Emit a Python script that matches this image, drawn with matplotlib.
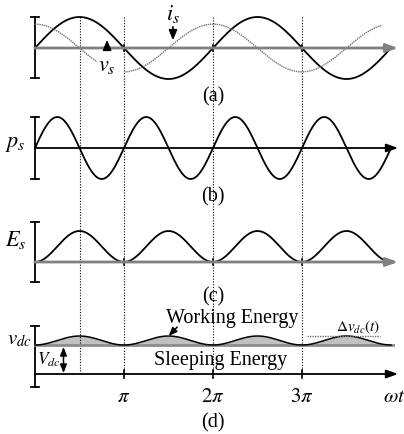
import numpy as np
import matplotlib
matplotlib.use("Agg")
import matplotlib.pyplot as plt

plt.rcParams['font.family'] = ['Liberation Serif', 'DejaVu Serif']
plt.rcParams['mathtext.fontset'] = 'stix'

# data (x in units of pi)
theta = np.linspace(0, 4, 800)
v_s = np.sin(np.pi * theta)
i_s = 0.77 * np.cos(np.pi * theta)
p_s = np.sin(2 * np.pi * theta)
E_s = np.sin(np.pi * theta) ** 2
ripple = 0.29 * np.sin(np.pi * theta) ** 2
tick_pos = [1, 2, 3]
tick_labels = [r'$\pi$', r'$2\pi$', r'$3\pi$']
guide_pos = [0.5, 1, 2, 3]

# layout (y in pixel-like units, downward)
A = 31
base = {'a': 48, 'b': 148, 'c': 262, 'd': 345}
d_axis = 374
x_end = 4.08

fig = plt.figure(figsize=(4.04, 4.34), dpi=100)
ax = fig.add_axes([0, 0, 1, 1])
ax.set_xlim(-35 / 89, 369 / 89)
ax.set_ylim(434, 0)
ax.axis('off')

def axis_arrow(y, color, lw):
    ax.annotate('', xy=(x_end, y), xytext=(0, y),
                arrowprops=dict(arrowstyle='-|>,head_length=0.7,head_width=0.25',
                                color=color, lw=lw, shrinkA=0, shrinkB=0))

def ibar(y0, y1):
    ax.plot([0, 0], [y0, y1], color='black', lw=1.3)
    ax.plot([-0.04, 0.04], [y0, y0], color='black', lw=1.3)
    ax.plot([-0.04, 0.04], [y1, y1], color='black', lw=1.3)

def small_ticks(y, h=3):
    for t in tick_pos:
        ax.plot([t, t], [y - h, y + h], color='black', lw=1.2)

# dotted guide lines
for g in guide_pos:
    ax.plot([g, g], [17, d_axis], color='black', lw=0.8, ls=(0, (1, 1.5)))

# (a)
ibar(17, 78)
axis_arrow(base['a'], '0.5', 2)
small_ticks(base['a'])
ax.plot(theta, base['a'] - A * v_s, color='black', lw=1.3)
m1 = theta <= 0.70
m2 = (theta >= 1.0) & (theta <= 3.9)
ax.plot(theta[m1], base['a'] - A * i_s[m1], color='0.45', lw=1, ls=(0, (1, 0.6)))
ax.plot(theta[m2], base['a'] - A * i_s[m2], color='0.45', lw=1, ls=(0, (1, 0.6)))
ax.annotate('', xy=(1.55, 43), xytext=(1.55, 24),
            arrowprops=dict(arrowstyle='-|>,head_length=0.6,head_width=0.25', color='black', lw=1.2))
ax.text(1.55, 14, r'$i_s$', fontsize=16, ha='center', va='center')
ax.annotate('', xy=(0.81, 37), xytext=(0.81, 49),
            arrowprops=dict(arrowstyle='-|>,head_length=0.6,head_width=0.25', color='black', lw=1.2))
ax.text(0.81, 66, r'$v_s$', fontsize=16, ha='center', va='center')
ax.text(2.0, 97, '(a)', fontsize=14.5, ha='center', va='center')

# (b)
ibar(117, 179)
axis_arrow(base['b'], 'black', 1.3)
ax.plot(theta, base['b'] - A * p_s, color='black', lw=1.3)
ax.text(-0.22, 144, r'$p_s$', fontsize=16, ha='center', va='center')
ax.text(2.0, 197, '(b)', fontsize=14.5, ha='center', va='center')

# (c)
ibar(222, 282)
axis_arrow(base['c'], '0.5', 2)
small_ticks(base['c'])
ax.plot(theta, base['c'] - A * E_s, color='black', lw=1.3)
ax.text(-0.22, 240, r'$E_s$', fontsize=16, ha='center', va='center')
ax.text(2.0, 297, '(c)', fontsize=14.5, ha='center', va='center')

# (d)
ibar(326, 387)
ax.plot([0, 4.02], [base['d'], base['d']], color='0.55', lw=2)
ax.fill_between(theta, base['d'], base['d'] - A * ripple, color='#c0c0c0', lw=0)
ax.plot(theta, base['d'] - A * ripple, color='black', lw=1.1)
axis_arrow(d_axis, 'black', 1.3)
small_ticks(d_axis, 4)
for t, lab in zip(tick_pos, tick_labels):
    ax.text(t, 397, lab, fontsize=15, ha='center', va='center')
ax.text(3.91, 397, r'$\omega t$', fontsize=15, ha='left', va='center')
ax.plot([3.06, 3.88], [336, 336], color='0.45', lw=1, ls=(0, (1, 0.8)))
ax.text(3.63, 327, r'$\Delta v_{dc}(t)$', fontsize=11, ha='center', va='center')
ax.text(2.22, 318, 'Working Energy', fontsize=14.5, ha='center', va='center')
ax.annotate('', xy=(1.48, 338), xytext=(1.62, 325),
            arrowprops=dict(arrowstyle='-|>,head_length=0.5,head_width=0.2', color='black', lw=1.1))
ax.text(2.09, 360, 'Sleeping Energy', fontsize=14.5, ha='center', va='center')
ax.text(-0.17, 340, r'$v_{dc}$', fontsize=15, ha='center', va='center')
ax.text(0.025, 360, r'$V_{dc}$', fontsize=12.5, ha='left', va='center')
ax.annotate('', xy=(0.32, 347), xytext=(0.32, 373),
            arrowprops=dict(arrowstyle='<|-|>,head_length=0.5,head_width=0.2', color='black', lw=1.1,
                            shrinkA=0, shrinkB=0))
ax.text(2.0, 423, '(d)', fontsize=14.5, ha='center', va='center')

fig.savefig('out.png', dpi=100)
